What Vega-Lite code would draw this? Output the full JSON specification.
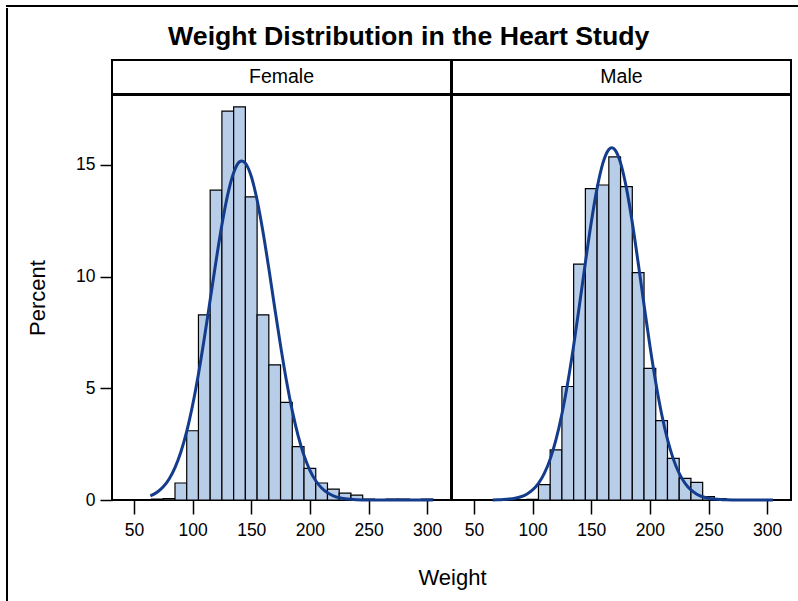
{
  "$schema": "https://vega.github.io/schema/vega-lite/v6.json",
  "background": "white",
  "padding": {"left": 6, "top": 5, "right": 0, "bottom": 0},
  "autosize": {"type": "pad"},
  "datasets": {
    "hist": [
      {"Sex": "Female", "Series": "Histogram", "Weight": 65, "WeightEnd": 75, "Percent": 0.04},
      {"Sex": "Female", "Series": "Histogram", "Weight": 75, "WeightEnd": 85, "Percent": 0.06},
      {"Sex": "Female", "Series": "Histogram", "Weight": 85, "WeightEnd": 95, "Percent": 0.76},
      {"Sex": "Female", "Series": "Histogram", "Weight": 95, "WeightEnd": 105, "Percent": 3.1},
      {"Sex": "Female", "Series": "Histogram", "Weight": 105, "WeightEnd": 115, "Percent": 8.29},
      {"Sex": "Female", "Series": "Histogram", "Weight": 115, "WeightEnd": 125, "Percent": 13.87},
      {"Sex": "Female", "Series": "Histogram", "Weight": 125, "WeightEnd": 135, "Percent": 17.41},
      {"Sex": "Female", "Series": "Histogram", "Weight": 135, "WeightEnd": 145, "Percent": 17.6},
      {"Sex": "Female", "Series": "Histogram", "Weight": 145, "WeightEnd": 155, "Percent": 13.57},
      {"Sex": "Female", "Series": "Histogram", "Weight": 155, "WeightEnd": 165, "Percent": 8.29},
      {"Sex": "Female", "Series": "Histogram", "Weight": 165, "WeightEnd": 175, "Percent": 6.05},
      {"Sex": "Female", "Series": "Histogram", "Weight": 175, "WeightEnd": 185, "Percent": 4.37},
      {"Sex": "Female", "Series": "Histogram", "Weight": 185, "WeightEnd": 195, "Percent": 2.39},
      {"Sex": "Female", "Series": "Histogram", "Weight": 195, "WeightEnd": 205, "Percent": 1.42},
      {"Sex": "Female", "Series": "Histogram", "Weight": 205, "WeightEnd": 215, "Percent": 0.76},
      {"Sex": "Female", "Series": "Histogram", "Weight": 215, "WeightEnd": 225, "Percent": 0.49},
      {"Sex": "Female", "Series": "Histogram", "Weight": 225, "WeightEnd": 235, "Percent": 0.31},
      {"Sex": "Female", "Series": "Histogram", "Weight": 235, "WeightEnd": 245, "Percent": 0.22},
      {"Sex": "Female", "Series": "Histogram", "Weight": 245, "WeightEnd": 255, "Percent": 0.04},
      {"Sex": "Female", "Series": "Histogram", "Weight": 265, "WeightEnd": 275, "Percent": 0.04},
      {"Sex": "Female", "Series": "Histogram", "Weight": 275, "WeightEnd": 285, "Percent": 0.04},
      {"Sex": "Female", "Series": "Histogram", "Weight": 295, "WeightEnd": 305, "Percent": 0.04},
      {"Sex": "Male", "Series": "Histogram", "Weight": 95, "WeightEnd": 105, "Percent": 0.03},
      {"Sex": "Male", "Series": "Histogram", "Weight": 105, "WeightEnd": 115, "Percent": 0.69},
      {"Sex": "Male", "Series": "Histogram", "Weight": 115, "WeightEnd": 125, "Percent": 2.24},
      {"Sex": "Male", "Series": "Histogram", "Weight": 125, "WeightEnd": 135, "Percent": 5.08},
      {"Sex": "Male", "Series": "Histogram", "Weight": 135, "WeightEnd": 145, "Percent": 10.56},
      {"Sex": "Male", "Series": "Histogram", "Weight": 145, "WeightEnd": 155, "Percent": 13.94},
      {"Sex": "Male", "Series": "Histogram", "Weight": 155, "WeightEnd": 165, "Percent": 14.1},
      {"Sex": "Male", "Series": "Histogram", "Weight": 165, "WeightEnd": 175, "Percent": 15.36},
      {"Sex": "Male", "Series": "Histogram", "Weight": 175, "WeightEnd": 185, "Percent": 14.03},
      {"Sex": "Male", "Series": "Histogram", "Weight": 185, "WeightEnd": 195, "Percent": 10.18},
      {"Sex": "Male", "Series": "Histogram", "Weight": 195, "WeightEnd": 205, "Percent": 5.89},
      {"Sex": "Male", "Series": "Histogram", "Weight": 205, "WeightEnd": 215, "Percent": 3.55},
      {"Sex": "Male", "Series": "Histogram", "Weight": 215, "WeightEnd": 225, "Percent": 1.86},
      {"Sex": "Male", "Series": "Histogram", "Weight": 225, "WeightEnd": 235, "Percent": 0.97},
      {"Sex": "Male", "Series": "Histogram", "Weight": 235, "WeightEnd": 245, "Percent": 0.79},
      {"Sex": "Male", "Series": "Histogram", "Weight": 245, "WeightEnd": 255, "Percent": 0.15},
      {"Sex": "Male", "Series": "Histogram", "Weight": 255, "WeightEnd": 265, "Percent": 0.06},
      {"Sex": "Male", "Series": "Histogram", "Weight": 265, "WeightEnd": 275, "Percent": 0.02},
      {"Sex": "Female", "Series": "Density", "Weight": 64, "Percent": 0.187},
      {"Sex": "Female", "Series": "Density", "Weight": 70, "Percent": 0.358},
      {"Sex": "Female", "Series": "Density", "Weight": 75, "Percent": 0.592},
      {"Sex": "Female", "Series": "Density", "Weight": 80, "Percent": 0.943},
      {"Sex": "Female", "Series": "Density", "Weight": 85, "Percent": 1.45},
      {"Sex": "Female", "Series": "Density", "Weight": 90, "Percent": 2.15},
      {"Sex": "Female", "Series": "Density", "Weight": 95, "Percent": 3.07},
      {"Sex": "Female", "Series": "Density", "Weight": 100, "Percent": 4.24},
      {"Sex": "Female", "Series": "Density", "Weight": 105, "Percent": 5.64},
      {"Sex": "Female", "Series": "Density", "Weight": 110, "Percent": 7.24},
      {"Sex": "Female", "Series": "Density", "Weight": 115, "Percent": 8.96},
      {"Sex": "Female", "Series": "Density", "Weight": 120, "Percent": 10.7},
      {"Sex": "Female", "Series": "Density", "Weight": 125, "Percent": 12.32},
      {"Sex": "Female", "Series": "Density", "Weight": 130, "Percent": 13.68},
      {"Sex": "Female", "Series": "Density", "Weight": 135, "Percent": 14.65},
      {"Sex": "Female", "Series": "Density", "Weight": 140, "Percent": 15.14},
      {"Sex": "Female", "Series": "Density", "Weight": 142, "Percent": 15.18},
      {"Sex": "Female", "Series": "Density", "Weight": 145, "Percent": 15.08},
      {"Sex": "Female", "Series": "Density", "Weight": 150, "Percent": 14.49},
      {"Sex": "Female", "Series": "Density", "Weight": 155, "Percent": 13.43},
      {"Sex": "Female", "Series": "Density", "Weight": 160, "Percent": 12.01},
      {"Sex": "Female", "Series": "Density", "Weight": 165, "Percent": 10.36},
      {"Sex": "Female", "Series": "Density", "Weight": 170, "Percent": 8.61},
      {"Sex": "Female", "Series": "Density", "Weight": 175, "Percent": 6.91},
      {"Sex": "Female", "Series": "Density", "Weight": 180, "Percent": 5.34},
      {"Sex": "Female", "Series": "Density", "Weight": 185, "Percent": 3.99},
      {"Sex": "Female", "Series": "Density", "Weight": 190, "Percent": 2.87},
      {"Sex": "Female", "Series": "Density", "Weight": 195, "Percent": 1.99},
      {"Sex": "Female", "Series": "Density", "Weight": 200, "Percent": 1.33},
      {"Sex": "Female", "Series": "Density", "Weight": 205, "Percent": 0.862},
      {"Sex": "Female", "Series": "Density", "Weight": 210, "Percent": 0.536},
      {"Sex": "Female", "Series": "Density", "Weight": 215, "Percent": 0.322},
      {"Sex": "Female", "Series": "Density", "Weight": 220, "Percent": 0.187},
      {"Sex": "Female", "Series": "Density", "Weight": 225, "Percent": 0.104},
      {"Sex": "Female", "Series": "Density", "Weight": 230, "Percent": 0.056},
      {"Sex": "Female", "Series": "Density", "Weight": 235, "Percent": 0.029},
      {"Sex": "Female", "Series": "Density", "Weight": 240, "Percent": 0.015},
      {"Sex": "Female", "Series": "Density", "Weight": 250, "Percent": 0.003},
      {"Sex": "Female", "Series": "Density", "Weight": 265, "Percent": 0},
      {"Sex": "Female", "Series": "Density", "Weight": 305, "Percent": 0},
      {"Sex": "Male", "Series": "Density", "Weight": 66, "Percent": 0.005},
      {"Sex": "Male", "Series": "Density", "Weight": 70, "Percent": 0.009},
      {"Sex": "Male", "Series": "Density", "Weight": 75, "Percent": 0.02},
      {"Sex": "Male", "Series": "Density", "Weight": 80, "Percent": 0.04},
      {"Sex": "Male", "Series": "Density", "Weight": 85, "Percent": 0.077},
      {"Sex": "Male", "Series": "Density", "Weight": 90, "Percent": 0.144},
      {"Sex": "Male", "Series": "Density", "Weight": 95, "Percent": 0.26},
      {"Sex": "Male", "Series": "Density", "Weight": 100, "Percent": 0.449},
      {"Sex": "Male", "Series": "Density", "Weight": 105, "Percent": 0.746},
      {"Sex": "Male", "Series": "Density", "Weight": 110, "Percent": 1.19},
      {"Sex": "Male", "Series": "Density", "Weight": 115, "Percent": 1.83},
      {"Sex": "Male", "Series": "Density", "Weight": 120, "Percent": 2.71},
      {"Sex": "Male", "Series": "Density", "Weight": 125, "Percent": 3.85},
      {"Sex": "Male", "Series": "Density", "Weight": 130, "Percent": 5.26},
      {"Sex": "Male", "Series": "Density", "Weight": 135, "Percent": 6.91},
      {"Sex": "Male", "Series": "Density", "Weight": 140, "Percent": 8.74},
      {"Sex": "Male", "Series": "Density", "Weight": 145, "Percent": 10.62},
      {"Sex": "Male", "Series": "Density", "Weight": 150, "Percent": 12.42},
      {"Sex": "Male", "Series": "Density", "Weight": 155, "Percent": 13.96},
      {"Sex": "Male", "Series": "Density", "Weight": 160, "Percent": 15.09},
      {"Sex": "Male", "Series": "Density", "Weight": 165, "Percent": 15.69},
      {"Sex": "Male", "Series": "Density", "Weight": 167.5, "Percent": 15.77},
      {"Sex": "Male", "Series": "Density", "Weight": 170, "Percent": 15.69},
      {"Sex": "Male", "Series": "Density", "Weight": 175, "Percent": 15.09},
      {"Sex": "Male", "Series": "Density", "Weight": 180, "Percent": 13.96},
      {"Sex": "Male", "Series": "Density", "Weight": 185, "Percent": 12.42},
      {"Sex": "Male", "Series": "Density", "Weight": 190, "Percent": 10.62},
      {"Sex": "Male", "Series": "Density", "Weight": 195, "Percent": 8.74},
      {"Sex": "Male", "Series": "Density", "Weight": 200, "Percent": 6.91},
      {"Sex": "Male", "Series": "Density", "Weight": 205, "Percent": 5.26},
      {"Sex": "Male", "Series": "Density", "Weight": 210, "Percent": 3.85},
      {"Sex": "Male", "Series": "Density", "Weight": 215, "Percent": 2.71},
      {"Sex": "Male", "Series": "Density", "Weight": 220, "Percent": 1.83},
      {"Sex": "Male", "Series": "Density", "Weight": 225, "Percent": 1.19},
      {"Sex": "Male", "Series": "Density", "Weight": 230, "Percent": 0.746},
      {"Sex": "Male", "Series": "Density", "Weight": 235, "Percent": 0.449},
      {"Sex": "Male", "Series": "Density", "Weight": 240, "Percent": 0.26},
      {"Sex": "Male", "Series": "Density", "Weight": 245, "Percent": 0.144},
      {"Sex": "Male", "Series": "Density", "Weight": 250, "Percent": 0.077},
      {"Sex": "Male", "Series": "Density", "Weight": 255, "Percent": 0.04},
      {"Sex": "Male", "Series": "Density", "Weight": 260, "Percent": 0.02},
      {"Sex": "Male", "Series": "Density", "Weight": 265, "Percent": 0.009},
      {"Sex": "Male", "Series": "Density", "Weight": 270, "Percent": 0.004},
      {"Sex": "Male", "Series": "Density", "Weight": 280, "Percent": 0.001},
      {"Sex": "Male", "Series": "Density", "Weight": 305, "Percent": 0}
    ]
  },
  "vconcat": [
    {
      "width": 900, "height": 0.01,
      "data": {"values": []},
      "mark": "rule",
      "encoding": {},
      "view": {"stroke": "black", "strokeWidth": 2}
    },
    {
      "hconcat": [
        {
          "width": 0.01, "height": 700,
          "data": {"values": []},
          "mark": "rule",
          "encoding": {},
          "view": {"stroke": "black", "strokeWidth": 2}
        },
        {
          "vconcat": [
            {
              "width": 10, "height": 0.01,
              "data": {"values": []},
              "mark": "rule",
              "encoding": {},
              "view": {"stroke": "transparent", "strokeWidth": 1}
            },
            {
              "title": {
                "text": "Weight Distribution in the Heart Study",
                "fontSize": 26.7, "fontWeight": "bold", "font": "Liberation Sans",
                "anchor": "middle", "frame": "bounds", "offset": 8, "color": "black"
              },
              "columns": 2,
              "bounds": "flush",
              "spacing": 1,
              "concat": [
                {
                  "width": 339, "height": 34,
                  "data": {"values": [{"Sex": "Female"}]},
                  "mark": {"type": "text", "fontSize": 19.5, "font": "Liberation Sans", "color": "black"},
                  "encoding": {"text": {"field": "Sex", "type": "nominal"}},
                  "view": {"stroke": "black", "strokeWidth": 2}
                },
                {
                  "width": 339, "height": 34,
                  "data": {"values": [{"Sex": "Male"}]},
                  "mark": {"type": "text", "fontSize": 19.5, "font": "Liberation Sans", "color": "black"},
                  "encoding": {"text": {"field": "Sex", "type": "nominal"}},
                  "view": {"stroke": "black", "strokeWidth": 2}
                },
                {
                  "width": 339, "height": 405,
                  "data": {"name": "hist"},
                  "transform": [{"filter": "datum.Sex == 'Female'"}],
                  "view": {"stroke": "black", "strokeWidth": 2},
                  "layer": [
                    {
                      "transform": [{"filter": "datum.Series == 'Histogram'"}],
                      "mark": {"type": "rect", "fill": "#B8CDE8", "stroke": "black", "strokeWidth": 1.2},
                      "encoding": {
                        "x": {"field": "Weight", "type": "quantitative", "scale": {"domain": [31.3, 320.3], "nice": false},
                              "axis": {"values": [50, 100, 150, 200, 250, 300], "title": "Weight", "titleX": 340, "tickSize": 14, "labelFontSize": 17.5, "titleFontSize": 22, "labelPadding": 7.5, "titlePadding": 28}},
                        "x2": {"field": "WeightEnd"},
                        "y": {"field": "Percent", "type": "quantitative", "scale": {"domain": [0, 18.13], "nice": false},
                              "axis": {"values": [0, 5, 10, 15], "title": "Percent", "tickSize": 12, "labelFontSize": 17.5, "titleFontSize": 22, "labelPadding": 5, "titlePadding": 26}},
                        "y2": {"datum": 0}
                      }
                    },
                    {
                      "transform": [{"filter": "datum.Series == 'Density'"}],
                      "mark": {"type": "line", "color": "#143C8C", "strokeWidth": 3, "interpolate": "monotone"},
                      "encoding": {
                        "x": {"field": "Weight", "type": "quantitative"},
                        "y": {"field": "Percent", "type": "quantitative"}
                      }
                    }
                  ]
                },
                {
                  "width": 339, "height": 405,
                  "data": {"name": "hist"},
                  "transform": [{"filter": "datum.Sex == 'Male'"}],
                  "view": {"stroke": "black", "strokeWidth": 2},
                  "layer": [
                    {
                      "transform": [{"filter": "datum.Series == 'Histogram'"}],
                      "mark": {"type": "rect", "fill": "#B8CDE8", "stroke": "black", "strokeWidth": 1.2},
                      "encoding": {
                        "x": {"field": "Weight", "type": "quantitative", "scale": {"domain": [31.3, 320.3], "nice": false},
                              "axis": {"values": [50, 100, 150, 200, 250, 300], "title": null, "tickSize": 14, "labelFontSize": 17.5, "labelPadding": 7.5}},
                        "x2": {"field": "WeightEnd"},
                        "y": {"field": "Percent", "type": "quantitative", "scale": {"domain": [0, 18.13], "nice": false}, "axis": null},
                        "y2": {"datum": 0}
                      }
                    },
                    {
                      "transform": [{"filter": "datum.Series == 'Density'"}],
                      "mark": {"type": "line", "color": "#143C8C", "strokeWidth": 3, "interpolate": "monotone"},
                      "encoding": {
                        "x": {"field": "Weight", "type": "quantitative"},
                        "y": {"field": "Percent", "type": "quantitative"}
                      }
                    }
                  ]
                }
              ]
            }
          ],
          "spacing": 14,
          "bounds": "full"
        }
      ],
      "spacing": 16,
      "bounds": "full"
    }
  ],
  "spacing": 0,
  "bounds": "full",
  "config": {
    "view": {"stroke": "black", "strokeWidth": 2},
    "axis": {"labelFont": "Liberation Sans", "titleFont": "Liberation Sans", "labelColor": "black", "titleColor": "black", "tickColor": "black", "tickWidth": 1.5, "domain": false, "grid": false, "titleFontWeight": "normal"},
    "text": {"font": "Liberation Sans"}
  }
}
